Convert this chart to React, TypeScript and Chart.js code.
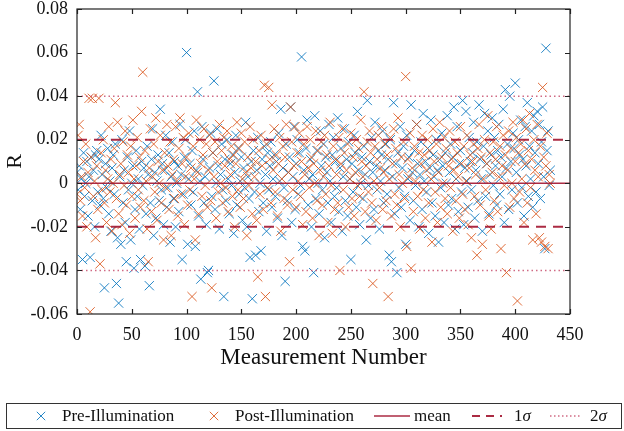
import React, { useEffect, useRef } from "react";
import { Chart, registerables } from "chart.js";

Chart.register(...registerables);

// values in thousandths of R, index = measurement number (0..432)
const PRE_ILLUMINATION: number[] = [
  5, -3, 8, -12, 2, -35, 14, -6, 0, 10, -15, 3, -34, 12, -8, 6, -20, 13, 15, -4,
  11, -10, 22, 4, -7, -48, 9, -2, 16, -14, 1, -22, 7, 13, -5, 18, -46, -25, -55, 3,
  -28, 20, -9, 6, -18, -36, 12, -3, 24, -26, 0, 8, -39, -12, 15, -6, 2, -21, -35, 10,
  -1, 7, -38, -14, 17, 4, -47, -9, 11, 25, -24, 5, -16, 1, 13, -8, 34, -3, 9, -19,
  6, 22, -11, -2, 14, -27, 3, 19, -7, 10, -20, 0, 8, -13, 27, 4, -35, -5, 12, 20,
  60, -28, 2, 9, -10, 15, -4, 24, -29, 6, 42, -15, 1, -44, 26, 11, -9, 3, -19, -41,
  -40, 7, 23, -6, 14, 47, -12, 0, 25, 8, -21, 4, 18, -3, -52, 11, -8, 20, 2, -14,
  9, -1, 13, -23, 5, 22, -10, 16, -5, 1, 12, -17, 7, -2, 28, -20, 3, -7, -34, 10,
  -53, 15, -4, -33, 6, 21, -13, 0, -31, 11, -9, 17, 4, -22, 14, -3, 8, 19, -11, 2,
  13, -6, 10, -16, 23, 1, 34, -24, 7, -2, -45, 18, -8, 5, 12, 35, -18, 3, 26, -12,
  9, 20, -5, 14, -1, 58, -29, 6, -31, 16, 29, -10, 2, 11, -20, 4, -41, 31, -7, 15,
  0, -14, 24, 8, -3, 18, -25, 12, 5, -9, 27, 1, -18, 13, 21, -6, 10, -2, 30, -13,
  7, 16, -22, 3, 25, -8, 11, -15, 19, 2, -35, 9, -4, 22, 14, -11, 33, 6, -19, 0,
  12, -7, 17, 4, -26, 38, -1, 10, -16, 21, 5, -12, 28, 8, -3, 15, -21, 1, 13, 24,
  -9, 6, 18, -5, 11, -33, 20, -36, 3, 37, -14, 9, -41, 14, -2, 26, -11, 7, 17, -6,
  -28, 22, 2, 12, -17, 36, 5, -8, 15, -1, 27, 9, -20, 4, 19, -12, 32, 1, 10, -4,
  16, -23, 7, 29, -9, 13, 3, -15, 20, 6, -27, 11, -2, 23, 8, -18, 14, 0, 31, -10,
  5, 18, -7, 12, 35, -21, 2, 26, -13, 9, 15, -4, 38, -19, 7, 33, 1, -11, 21, 10,
  -3, 14, 28, -16, 6, 19, -8, 36, 11, 2, -22, 17, 32, -6, 9, 24, -14, 4, 13, 30,
  -1, 21, 8, -10, 15, 27, -5, 12, 3, 34, -18, 43, 7, 18, -12, 40, 10, -3, 23, 16,
  46, 5, -9, 20, 13, 29, -2, 11, -15, 26, 8, 37, -6, 17, 2, 24, -11, 31, 14, -4,
  33, 9, 27, -7, 19, 35, 3, -30, 62, 15, 24, -1, 6,
];

const POST_ILLUMINATION: number[] = [
  -5, 22, 27, -8, 3, -15, 10, -2, 18, -20, 5, 39, -59, 12, 39, -6, 1, -25, 8, -12,
  39, -37, 14, -3, 20, -9, 6, -18, 2, 26, -4, 11, -22, 0, 16, 37, -7, 28, -14, 4,
  9, -19, 19, -1, 24, -10, 13, 5, -23, 17, -6, 29, 2, -16, 8, 21, -3, 12, -11, 33,
  51, -8, 15, 1, -21, -36, 7, 25, -13, 3, 18, -4, 30, -17, 10, 0, 22, -9, 6, -26,
  14, -2, 27, 8, -12, 19, -24, 4, 11, -7, 26, 1, -15, 16, 30, -5, 9, 21, -19, 3,
  12, -10, 23, -3, 7, -52, 17, 2, -26, 29, 5, -14, 20, 9, -6, 13, 25, -1, 18, -11,
  6, 22, -8, -48, 14, 3, 19, -16, 10, -4, 27, 0, 15, -9, 21, 8, -2, 24, -13, 11,
  4, 17, -6, 13, -20, 9, 28, -3, 16, -11, 23, 2, -7, 19, 5, -24, 12, -1, 26, 7,
  -14, 20, 3, 10, -17, -43, 15, -5, 22, 8, -12, 45, -52, 18, -2, 44, 11, -9, 36, 6,
  25, -4, 13, -15, 9, 21, -22, 2, 17, -7, 12, 27, -10, 5, -36, 35, 19, -3, 8, 26,
  -11, 14, 1, 23, -6, 10, -19, 18, 4, -13, 26, 7, -2, 20, 12, -16, 9, 0, 24, -8,
  15, -24, 6, 19, -10, 3, 22, -5, 13, -18, 8, 28, -1, -23, 17, -12, 11, 4, -9, 21,
  -40, 9, 25, -3, 14, -20, 6, 18, -11, 2, 23, -7, 12, -15, 5, 20, -1, 16, -6, 29,
  10, 3, 42, -13, 8, 19, -4, 24, 14, -9, -46, 1, 17, -17, 11, 22, -2, 7, 26, -12,
  5, 18, -8, 13, -52, 2, 21, -15, 9, 25, -5, 16, -10, 30, 4, -20, 12, 0, 19, -7,
  49, -29, 11, 3, 23, -39, 7, -13, 17, 1, 27, -6, 14, -21, 9, 22, -3, 13, -16, 6,
  20, -9, 15, 2, -27, 25, 10, -4, 18, -18, 5, 28, -11, 12, 0, 21, -7, 16, -14, 8,
  24, -2, 11, -22, 6, 19, -8, 14, 3, -16, 26, 9, -5, 17, -12, 1, 22, -19, 7, 13,
  -25, 10, 18, -6, 4, -33, 16, 27, -10, 12, -28, 2, 20, -3, 9, 31, -15, 14, -21, 5,
  19, -8, 11, 26, -13, 3, 17, -30, 8, 22, -1, 13, -41, 6, 24, -11, 16, 0, 28, -7,
  10, 21, -54, 14, -4, 18, 2, 29, -18, 9, 25, -9, 15, 32, -2, 11, -26, 20, 6, -14,
  27, 3, -25, 17, -27, 44, 12, -29, 8, 23, -30, 4, 0,
];

const VALUE_SCALE = 0.001;
const MEAN = 0;
const SIGMA = 0.02;
const X_RANGE = [0, 450];
const Y_RANGE = [-0.06, 0.08];
const X_TICK_STEP = 50;
const Y_TICK_STEP = 0.02;
const LEGEND_LABELS = ["Pre-Illumination", "Post-Illumination", "mean", "1", "2"];

const BLUE = "rgba(0,114,189,0.85)";
const ORANGE = "rgba(217,83,25,0.85)";
const LINE_RED = "rgba(162,20,47,0.9)";
const DOT_RED = "rgba(200,80,110,0.85)";
const FONT = "'Liberation Serif', 'Times New Roman', serif";

function toPoints(vals: number[]) {
  return vals.map((v, i) => ({ x: i, y: v * VALUE_SCALE }));
}
function hLine(y: number) {
  return [
    { x: X_RANGE[0], y },
    { x: X_RANGE[1], y },
  ];
}

const framePlugin = {
  id: "frameAndLegend",
  afterDraw(chart: any) {
    const { ctx, chartArea: a, scales } = chart;
    const xs = scales.x;
    const ys = scales.y;
    ctx.save();
    ctx.strokeStyle = "#222";
    ctx.lineWidth = 1.2;
    ctx.strokeRect(a.left, a.top, a.right - a.left, a.bottom - a.top);
    const tl = 5;
    ctx.beginPath();
    xs.ticks.forEach((t: any) => {
      const px = Math.round(xs.getPixelForValue(t.value)) + 0.5;
      ctx.moveTo(px, a.bottom);
      ctx.lineTo(px, a.bottom - tl);
      ctx.moveTo(px, a.top);
      ctx.lineTo(px, a.top + tl);
    });
    ys.ticks.forEach((t: any) => {
      const py = Math.round(ys.getPixelForValue(t.value)) + 0.5;
      ctx.moveTo(a.left, py);
      ctx.lineTo(a.left + tl, py);
      ctx.moveTo(a.right, py);
      ctx.lineTo(a.right - tl, py);
    });
    ctx.stroke();

    // legend
    const top = 403.5;
    const h = 25;
    const cy = top + h / 2;
    ctx.strokeStyle = "#333";
    ctx.lineWidth = 1;
    ctx.strokeRect(6.5, top, 615, h);
    ctx.font = `17px ${FONT}`;
    ctx.fillStyle = "#111";
    ctx.textBaseline = "middle";
    ctx.textAlign = "left";

    const cross = (x: number, color: string) => {
      ctx.strokeStyle = color;
      ctx.lineWidth = 1;
      ctx.beginPath();
      const r = 4.2;
      ctx.moveTo(x - r, cy - r);
      ctx.lineTo(x + r, cy + r);
      ctx.moveTo(x + r, cy - r);
      ctx.lineTo(x - r, cy + r);
      ctx.stroke();
    };
    const seg = (x0: number, x1: number, color: string, dash: number[], w: number) => {
      ctx.strokeStyle = color;
      ctx.lineWidth = w;
      ctx.setLineDash(dash);
      ctx.beginPath();
      ctx.moveTo(x0, cy);
      ctx.lineTo(x1, cy);
      ctx.stroke();
      ctx.setLineDash([]);
    };
    cross(41, BLUE);
    ctx.fillText(LEGEND_LABELS[0], 62, cy + 1);
    cross(214, ORANGE);
    ctx.fillText(LEGEND_LABELS[1], 235, cy + 1);
    seg(374, 410, LINE_RED, [], 1.5);
    ctx.fillText(LEGEND_LABELS[2], 414, cy + 1);
    seg(472, 502, LINE_RED, [8, 6], 2);
    ctx.fillText(LEGEND_LABELS[3], 514, cy + 1);
    const w1 = ctx.measureText(LEGEND_LABELS[3]).width;
    ctx.font = `italic 17px ${FONT}`;
    ctx.fillText("\u03C3", 514 + w1, cy + 1);
    seg(550, 580, DOT_RED, [1.5, 2.5], 1.5);
    ctx.font = `17px ${FONT}`;
    ctx.fillText(LEGEND_LABELS[4], 590, cy + 1);
    const w2 = ctx.measureText(LEGEND_LABELS[4]).width;
    ctx.font = `italic 17px ${FONT}`;
    ctx.fillText("\u03C3", 590 + w2, cy + 1);
    ctx.restore();
  },
};

export default function App() {
  const ref = useRef<HTMLCanvasElement | null>(null);
  useEffect(() => {
    document.body.style.margin = "0";
    if (!ref.current) return;
    const lineDs = (data: any[], dash: number[], color: string, width: number) => ({
      type: "line" as const,
      data,
      borderColor: color,
      borderWidth: width,
      borderDash: dash,
      pointRadius: 0,
      fill: false,
    });
    const chart = new Chart(ref.current, {
      type: "scatter",
      data: {
        datasets: [
          lineDs(hLine(MEAN), [], LINE_RED, 1.5),
          lineDs(hLine(MEAN + SIGMA), [10, 7], LINE_RED, 2),
          lineDs(hLine(MEAN - SIGMA), [10, 7], LINE_RED, 2),
          lineDs(hLine(MEAN + 2 * SIGMA), [1.5, 3], DOT_RED, 1.5),
          lineDs(hLine(MEAN - 2 * SIGMA), [1.5, 3], DOT_RED, 1.5),
          {
            data: toPoints(POST_ILLUMINATION),
            pointStyle: "crossRot",
            pointRadius: 6.5,
            borderColor: ORANGE,
            backgroundColor: ORANGE,
            pointBorderWidth: 1,
          } as any,
          {
            data: toPoints(PRE_ILLUMINATION),
            pointStyle: "crossRot",
            pointRadius: 6.5,
            borderColor: BLUE,
            backgroundColor: BLUE,
            pointBorderWidth: 1,
          } as any,
        ],
      },
      options: {
        animation: false,
        responsive: true,
        maintainAspectRatio: false,
        layout: { padding: { left: 0, right: 54, top: 9, bottom: 57 } },
        plugins: { legend: { display: false }, tooltip: { enabled: false } },
        scales: {
          x: {
            type: "linear",
            min: X_RANGE[0],
            max: X_RANGE[1],
            grid: { display: false, drawTicks: false },
            border: { display: false },
            ticks: {
              stepSize: X_TICK_STEP,
              padding: 10,
              color: "#111",
              font: { family: FONT, size: 18 },
              maxRotation: 0,
            },
            title: {
              display: true,
              text: "Measurement Number",
              color: "#111",
              font: { family: FONT, size: 23 },
              padding: { top: 0, bottom: 2 },
            },
            afterFit: (s: any) => {
              s.height = 60;
              s.paddingLeft = 0;
              s.paddingRight = 0;
            },
          },
          y: {
            type: "linear",
            min: Y_RANGE[0],
            max: Y_RANGE[1],
            grid: { display: false, drawTicks: false },
            border: { display: false },
            ticks: {
              stepSize: Y_TICK_STEP,
              padding: 9,
              color: "#111",
              font: { family: FONT, size: 18 },
              callback: (v: any) => (Math.abs(v) < 1e-9 ? "0" : Number(v).toFixed(2)),
            },
            title: {
              display: true,
              text: "R",
              color: "#111",
              font: { family: FONT, size: 22 },
              padding: { top: 2, bottom: 0 },
            },
            afterFit: (s: any) => {
              s.width = 77;
              s.paddingTop = 0;
              s.paddingBottom = 0;
            },
          },
        },
      },
      plugins: [framePlugin],
    });
    return () => chart.destroy();
  }, []);
  return (
    <div style={{ position: "relative", width: 624, height: 431 }}>
      <canvas ref={ref} />
    </div>
  );
}
